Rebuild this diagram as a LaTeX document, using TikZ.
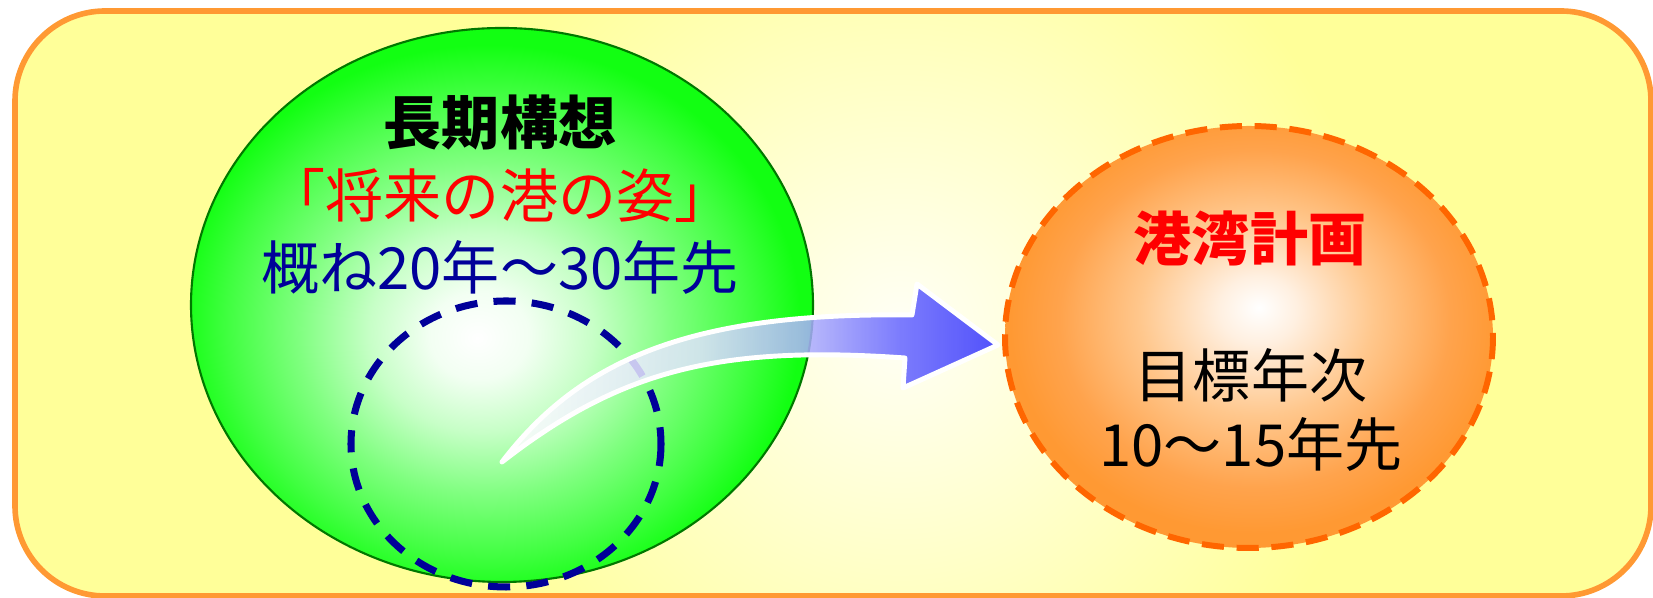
\documentclass[tikz,border=0pt]{standalone}
\usepackage{fontspec}
\newfontfamily\jpfont{Noto Sans CJK JP}
\definecolor{bgyellow}{RGB}{255,255,153}
\definecolor{glowwhite}{RGB}{255,255,246}
\definecolor{frameorange}{RGB}{255,153,51}
\definecolor{planorange}{RGB}{255,102,0}
\definecolor{deepblue}{RGB}{0,0,153}
\definecolor{darkgreen}{RGB}{0,120,0}
\pgfdeclareradialshading{greenglow}{\pgfpoint{-2bp}{-3bp}}{%
  rgb(0bp)=(1,1,1); rgb(4bp)=(0.95,1,0.95); rgb(9bp)=(0.78,1,0.78);
  rgb(15bp)=(0.5,1,0.5); rgb(21bp)=(0.25,1,0.25); rgb(25bp)=(0.07,1,0.07);
  rgb(50bp)=(0.07,1,0.07)}
\pgfdeclareradialshading{orangeglow}{\pgfpoint{1bp}{3.5bp}}{%
  rgb(0bp)=(1,1,1); rgb(4bp)=(1,0.94,0.88); rgb(12bp)=(1,0.78,0.55);
  rgb(20bp)=(1,0.64,0.3); rgb(25bp)=(1,0.6,0.2); rgb(50bp)=(1,0.6,0.2)}
\pgfdeclarehorizontalshading{arrowfade}{100bp}{%
  rgb(0bp)=(1,1,1); rgb(25bp)=(1,1,1); rgb(45bp)=(0.88,0.88,1);
  rgb(55bp)=(0.7,0.7,1); rgb(65bp)=(0.4,0.4,1); rgb(75bp)=(0.2,0.2,1);
  rgb(100bp)=(0.2,0.2,1)}

\begin{document}
\begin{tikzpicture}[
    x = 0.01cm, y = -0.01cm,
    every node/.style = {
      inner sep = 0pt,
      font = \jpfont\fontsize{16.5pt}{20pt}\selectfont,
    },
    frame/.style = {draw = frameorange, line width = 1.6pt, rounded corners = 0.9cm},
    horizon/.style = {draw = deepblue, line width = 2pt, dash pattern = on 6.3pt off 4.6pt},
    planline/.style = {draw = planorange, line width = 1.7pt, dash pattern = on 6.3pt off 3.6pt},
    bigarrow/.style = {shading = arrowfade, fill opacity = 0.85, draw = white,
      line width = 1.4pt, line join = round},
  ]
  \useasboundingbox (0,0) rectangle (1653,598);

  % Background panel
  \fill[bgyellow, rounded corners = 0.9cm] (15,11) rectangle (1651,596);
  \begin{scope}
    \clip[rounded corners = 0.9cm] (15,11) rectangle (1651,596);
    \shade[inner color = glowwhite, outer color = bgyellow] (900,330) circle (480);
  \end{scope}
  \draw[frame] (15,11) rectangle (1651,596);

  % Long-term vision
  \shadedraw[shading = greenglow, draw = darkgreen, line width = 0.6pt]
    (502,305) ellipse [x radius = 311, y radius = 277];
  \draw[horizon] (506,444) ellipse [x radius = 155, y radius = 143];
  \node (longterm) at (500,123) {\bfseries 長期構想};
  \node[text = red] (future) at (500,195) {「将来の港の姿」};
  \node[text = deepblue] (span) at (500,267) {概ね20年〜30年先};

  % Arrow
  \shadedraw[bigarrow]
    (502,462) .. controls (580,360) and (690,312) .. (912,315)
    -- (917,284) -- (998,345) -- (903,388) -- (905,358)
    .. controls (720,345) and (620,370) .. (502,462) -- cycle;

  % Port plan
  \shadedraw[shading = orangeglow, planline]
    (1249,337) ellipse [x radius = 244, y radius = 211];
  \node[text = red] (portplan) at (1250,238) {\bfseries 港湾計画};
  \node (target) at (1251,375) {目標年次};
  \node (years) at (1251,444) {10〜15年先};
\end{tikzpicture}
\end{document}
